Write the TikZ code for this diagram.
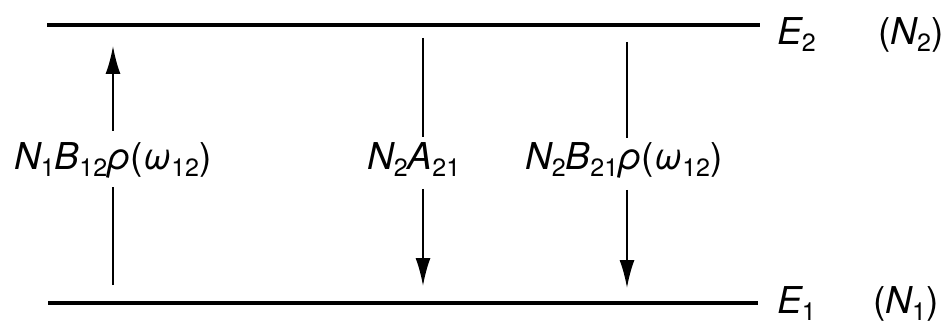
\documentclass[tikz,border=0pt]{standalone}
\usepackage{fontspec}
\setmainfont{TeX Gyre Heros}
\usetikzlibrary{arrows.meta}
\newcommand\lsub[1]{\raisebox{-7pt}{\fontsize{25}{25}\selectfont\upshape #1}}
\tikzset{
  level/.style={line width=4pt},
  trans/.style={line width=2pt},
  transarrow/.style={line width=2pt,-{Latex[length=28pt,width=15pt]}},
  lab/.style={inner sep=0pt,anchor=base west,font=\fontsize{37}{40}\selectfont\itshape},
}
\begin{document}
\begin{tikzpicture}[x=1pt,y=-1pt]
\useasboundingbox (0,0) rectangle (943,326);
% energy levels
\coordinate (u0) at (47,25);
\coordinate (u1) at (760,25);
\coordinate (l0) at (48,303);
\coordinate (l1) at (758,303);
\draw[level] (u0) -- (u1);
\draw[level] (l0) -- (l1);
\node[lab] (E2) at (777,45) {E\lsub{2}};
\node[lab] (N2) at (878,45) {\upshape(\itshape N\lsub{2}\upshape)};
\node[lab] (E1) at (777,313) {E\lsub{1}};
\node[lab] (N1) at (873,313) {\upshape(\itshape N\lsub{1}\upshape)};
% labels
\node[lab] (abs) at (14,170) {N\lsub{1}B\lsub{12}ρ\upshape(\itshape ω\lsub{12}\upshape)};
\node[lab] (spo) at (367,170) {N\lsub{2}A\lsub{21}};
\node[lab] (sti) at (525,170) {N\lsub{2}B\lsub{21}ρ\upshape(\itshape ω\lsub{12}\upshape)};
% arrow end points
\coordinate (a0) at (113,285);
\coordinate (a1) at (113,187);
\coordinate (a2) at (113,131);
\coordinate (a3) at (113,46);
\coordinate (b0) at (423,38);
\coordinate (b1) at (423,137);
\coordinate (b2) at (423,189);
\coordinate (b3) at (423,286);
\coordinate (c0) at (627,42);
\coordinate (c1) at (627,138);
\coordinate (c2) at (627,190);
\coordinate (c3) at (627,288);
\draw[trans] (a0) -- (a1);
\draw[transarrow] (a2) -- (a3);
\draw[trans] (b0) -- (b1);
\draw[transarrow] (b2) -- (b3);
\draw[trans] (c0) -- (c1);
\draw[transarrow] (c2) -- (c3);
\end{tikzpicture}
\end{document}
